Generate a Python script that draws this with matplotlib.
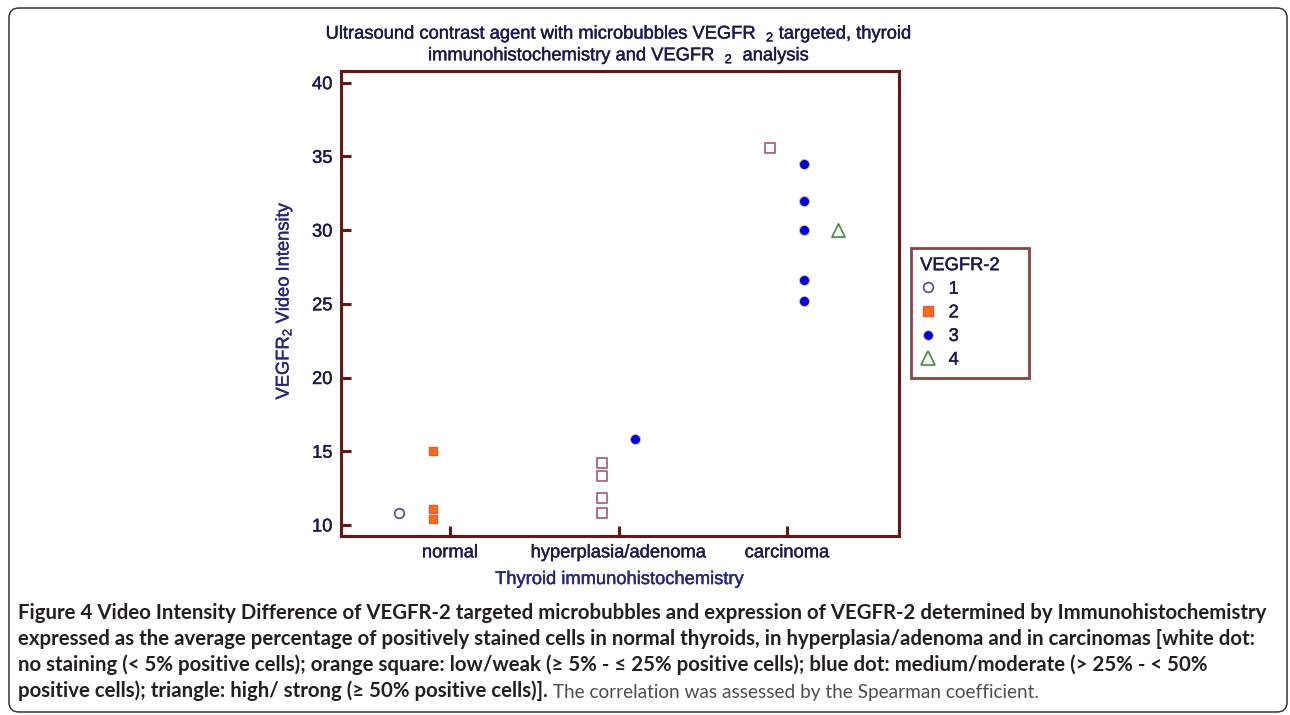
import matplotlib
matplotlib.use('Agg')
import matplotlib.pyplot as plt
import matplotlib.patheffects as pe
from matplotlib.patches import FancyBboxPatch
from matplotlib.lines import Line2D
from matplotlib.transforms import IdentityTransform
from matplotlib import font_manager as fm

# ---------------- data ----------------
categories = ['normal', 'hyperplasia/adenoma', 'carcinoma']
yticks = [10, 15, 20, 25, 30, 35, 40]
legend_labels = ['1', '2', '3', '4']

normal_g1 = [10.8]
normal_g2 = [15.0, 11.1, 10.4]
hyper_g2 = [14.2, 13.3, 11.8, 10.8]
hyper_g3 = [15.8]
carc_g2 = [35.6]
carc_g3 = [34.5, 32.0, 30.0, 26.6, 25.2]
carc_g4 = [30.0]

# ---------------- style ----------------
plt.rcParams['font.family'] = ['Liberation Sans', 'DejaVu Sans']
plt.rcParams['mathtext.default'] = 'regular'

W, H = 1290, 715
fig = plt.figure(figsize=(W / 100, H / 100), dpi=100)
fig.patch.set_facecolor('white')

SPINE = '#6b1414'
NAVY = '#1a1a50'
BLUE_LBL = '#262680'
FS = 13.2
heavy = [pe.withStroke(linewidth=0.3, foreground=NAVY)]
heavy_b = [pe.withStroke(linewidth=0.3, foreground=BLUE_LBL)]

ax = fig.add_axes([340.7 / W, 1 - 536 / H, (899 - 340.7) / W, (536 - 70.7) / H])

offsets = {1: -0.3, 2: -0.1, 3: 0.1, 4: 0.3}


def xpos(cat_idx, group, vals):
    return [cat_idx + 1 + offsets[group]] * len(vals)


c_circle = dict(marker='o', s=48, facecolors='white', edgecolors='#4b4b9c', linewidths=1.2, zorder=3)
c_sq_fill = dict(marker='s', s=36, facecolors='#ff6a10', edgecolors='#d8603a', linewidths=1.0, zorder=3)
c_sq_open = dict(marker='s', s=42, facecolors='white', edgecolors='#a4557a', linewidths=1.2, zorder=3)
c_dot = dict(marker='o', s=52, facecolors='#0000f0', edgecolors='#e8c070', linewidths=0.6, zorder=3)
c_tri = dict(marker='^', s=90, facecolors='white', edgecolors='#3d8c3d', linewidths=1.2, zorder=3)

ax.scatter(xpos(0, 1, normal_g1), normal_g1, **c_circle)
ax.scatter(xpos(0, 2, normal_g2), normal_g2, **c_sq_fill)
ax.scatter(xpos(1, 2, hyper_g2), hyper_g2, **c_sq_open)
ax.scatter(xpos(1, 3, hyper_g3), hyper_g3, **c_dot)
ax.scatter(xpos(2, 2, carc_g2), carc_g2, **c_sq_open)
ax.scatter(xpos(2, 3, carc_g3), carc_g3, **c_dot)
ax.scatter(xpos(2, 4, carc_g4), carc_g4, **c_tri)

ax.set_xlim(0.351, 3.665)
ax.set_ylim(9.25, 40.81)
ax.set_xticks([1, 2, 3])
ax.set_xticklabels(categories)
ax.set_yticks(yticks)

for sp in ax.spines.values():
    sp.set_color(SPINE)
    sp.set_linewidth(2.2)

ax.tick_params(axis='both', direction='in', length=7.5, width=2.2, color=SPINE,
               labelcolor=NAVY, labelsize=FS)
ax.tick_params(axis='y', pad=6)
ax.tick_params(axis='x', pad=6)
for t in ax.get_xticklabels() + ax.get_yticklabels():
    t.set_path_effects(heavy)

ax.set_ylabel('VEGFR$_2$ Video Intensity', fontsize=FS, color=BLUE_LBL, path_effects=heavy_b)
ax.yaxis.set_label_coords(-0.0826, 0.507)
ax.set_xlabel('Thyroid immunohistochemistry', fontsize=FS, color=BLUE_LBL, labelpad=7,
              path_effects=heavy_b)

fig.text(619.5 / W, 1 - 45 / H,
         'Ultrasound contrast agent with microbubbles VEGFR  $_2$ targeted, thyroid\n'
         'immunohistochemistry and VEGFR  $_2$  analysis',
         ha='center', va='center', fontsize=FS, color=NAVY, linespacing=1.05,
         path_effects=heavy)

# ---------------- legend ----------------
handles = [
    Line2D([], [], ls='none', marker='o', markersize=7, markerfacecolor='white',
           markeredgecolor='#4b4b9c', markeredgewidth=1.2),
    Line2D([], [], ls='none', marker='s', markersize=7, markerfacecolor='#ff6a10',
           markeredgecolor='#d8603a', markeredgewidth=1.0),
    Line2D([], [], ls='none', marker='o', markersize=7, markerfacecolor='#0000f0',
           markeredgecolor='#e8c070', markeredgewidth=0.6),
    Line2D([], [], ls='none', marker='^', markersize=9.5, markerfacecolor='white',
           markeredgecolor='#3d8c3d', markeredgewidth=1.2),
]
leg = fig.legend(handles, legend_labels, title='VEGFR-2', loc='upper left',
                 bbox_to_anchor=(911 / W, 1 - 369 / H, (1029 - 911) / W, (369 - 248) / H),
                 bbox_transform=fig.transFigure, mode='expand',
                 borderaxespad=0, frameon=True, fancybox=False, fontsize=FS,
                 title_fontsize=FS, alignment='left', handlelength=0.8, handletextpad=0.75,
                 labelspacing=0.36, borderpad=0.5)
leg.get_frame().set_edgecolor(SPINE)
leg.get_frame().set_linewidth(2.0)
leg.get_title().set_color(NAVY)
leg.get_title().set_path_effects(heavy)
for t in leg.get_texts():
    t.set_color(NAVY)
    t.set_path_effects(heavy)

# ---------------- caption ----------------
def has_bold(fam):
    try:
        p = fm.findfont(fm.FontProperties(family=fam, weight='bold'), fallback_to_default=False)
        return 'bold' in p.lower() or 'black' in p.lower() or '700' in p
    except Exception:
        return False


cap_main = 'DejaVu Sans'
for cand in ['Noto Sans', 'Lato', 'Open Sans', 'Roboto']:
    if has_bold(cand):
        cap_main = cand
        break
cap_family = [cap_main, 'DejaVu Sans']
CAP = '#231f20'
cap_lines = [
    'Figure 4 Video Intensity Difference of VEGFR-2 targeted microbubbles and expression of VEGFR-2 determined by Immunohistochemistry',
    'expressed as the average percentage of positively stained cells in normal thyroids, in hyperplasia/adenoma and in carcinomas [white dot:',
    'no staining (< 5% positive cells); orange square: low/weak (\u2265 5% - \u2264 25% positive cells); blue dot: medium/moderate (> 25% - < 50%',
    'positive cells); triangle: high/ strong (\u2265 50% positive cells)].',
]
cap_tail = ' The correlation was assessed by the Spearman coefficient.'
cap_y = [613, 639, 665, 691]

fig.canvas.draw()
renderer = fig.canvas.get_renderer()
probe = fig.text(0, 0, cap_lines[0], fontsize=13, fontweight='bold', family=cap_family)
w = probe.get_window_extent(renderer).width
probe.remove()
cap_fs = 13 * (1244 / w)

probe = fig.text(0, 0, cap_tail, fontsize=13, fontweight='normal', family=cap_family)
w2 = probe.get_window_extent(renderer).width
probe.remove()
tail_fs = 13 * (490 / w2)

last = None
for line, yy in zip(cap_lines, cap_y):
    last = fig.text(18 / W, 1 - yy / H, line, ha='left', va='center', fontsize=cap_fs,
                    fontweight='bold', family=cap_family, color=CAP)
ax.annotate(cap_tail, xy=(1, 0), xycoords=last, ha='left', va='bottom',
            fontsize=tail_fs, fontweight='normal', family=cap_family, color='#4d4d4d',
            annotation_clip=False)

# ---------------- frame ----------------
frame = FancyBboxPatch((9, 3), 1278, 704, boxstyle='round,pad=0,rounding_size=10',
                       transform=IdentityTransform(), facecolor='none', edgecolor='#333333',
                       linewidth=1.1, zorder=10)
fig.add_artist(frame)

fig.savefig('out.png', dpi=100)
